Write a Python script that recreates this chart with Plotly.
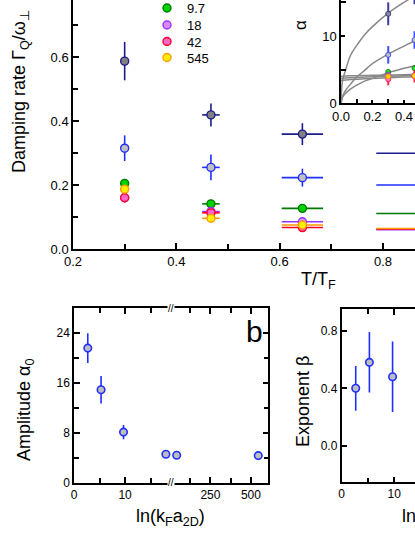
import plotly.graph_objects as go

W, H = 415, 537
FONT = "Liberation Sans, Arial, sans-serif"

# ---- panel a: damping rate vs T/T_F ----
T_POINTS = [0.30, 0.467, 0.644, 0.88]
T_ERR = [0.0, 0.017, 0.040, 0.093]

SERIES = ["2.7", "5.3", "9.7", "18", "42", "545"]
GAMMA = {
    "2.7": [0.587, 0.419, 0.359, 0.299],
    "5.3": [0.315, 0.255, 0.223, 0.200],
    "9.7": [0.205, 0.141, 0.127, 0.111],
    "18": [0.160, 0.117, 0.085, 0.060],
    "42": [0.160, 0.113, 0.067, 0.063],
    "545": [0.187, 0.096, 0.075, 0.064],
}
GAMMA_ERR = {
    "2.7": [0.060, 0.036, 0.034, 0.0],
    "5.3": [0.040, 0.040, 0.028, 0.0],
    "9.7": [0.014, 0.008, 0.006, 0.0],
    "18": [0.012, 0.008, 0.006, 0.0],
    "42": [0.014, 0.008, 0.006, 0.0],
    "545": [0.012, 0.008, 0.006, 0.0],
}

# inset: alpha vs T/T_F
INSET_T = [0.30, 0.467]
ALPHA = {
    "2.7": [13.3, 16.4],
    "5.3": [7.2, 9.4],
    "9.7": [4.65, 5.2],
    "18": [4.2, 4.2],
    "42": [3.57, 4.0],
    "545": [4.0, 4.1],
}
ALPHA_ERR = {
    "2.7": [1.7, 1.7],
    "5.3": [1.3, 1.3],
    "9.7": [0.4, 0.4],
    "18": [0.4, 0.4],
    "42": [0.9, 0.9],
    "545": [0.3, 0.3],
}
# fit curves in the inset
CURVE_T = [0.0, 0.01, 0.03, 0.06, 0.1, 0.15, 0.2, 0.3, 0.4, 0.47]
CURVES = [
    [0.0, 3.4, 5.0, 7.1, 8.6, 10.2, 11.4, 13.4, 15.0, 16.0],
    [0.0, 1.0, 1.95, 2.85, 3.9, 4.9, 5.9, 7.3, 8.5, 9.3],
    [0.0, 0.9, 1.5, 2.1, 2.7, 3.3, 3.7, 4.55, 5.2, 5.6],
    [4.0, 4.02, 4.05, 4.08, 4.1, 4.13, 4.16, 4.2, 4.25, 4.3],
    [3.7, 3.73, 3.77, 3.8, 3.85, 3.9, 3.95, 4.0, 4.1, 4.15],
    [3.4, 3.43, 3.48, 3.52, 3.58, 3.64, 3.7, 3.8, 3.9, 3.95],
]

# ---- panels b and c ----
LN_KA = [2.7, 5.3, 9.7, 18, 42, 545]
AMP = [21.6, 14.9, 8.1, 4.54, 4.38, 4.32]
AMP_ERR = [2.4, 2.2, 1.15, 0.3, 0.3, 0.3]
EXP_X = [2.7, 5.3, 9.7]
EXP = [0.40, 0.58, 0.48]
EXP_ERR = [0.155, 0.21, 0.245]

STYLE = {
    "2.7": dict(fill="#808080", edge="#1c1c8c"),
    "5.3": dict(fill="#c0c0c0", edge="#1f2fff"),
    "9.7": dict(fill="#00d400", edge="#007a00"),
    "18": dict(fill="#d98cff", edge="#9933ff"),
    "42": dict(fill="#ff66cc", edge="#ff0022"),
    "545": dict(fill="#ffee00", edge="#ff9900"),
}
# one small legend per visible entry, so rows can sit closer than plotly's default spacing
LEGEND_ROW = {"9.7": ("legend", 8), "18": ("legend2", 25), "42": ("legend3", 41.5), "545": ("legend4", 57.5)}


def fx(px):
    return px / W


def fy(py):
    return 1 - py / H


fig = go.Figure()

for s in SERIES:
    st = STYLE[s]
    fig.add_trace(go.Scatter(
        x=T_POINTS, y=GAMMA[s], mode="markers", name=s,
        showlegend=s in LEGEND_ROW,
        legend=LEGEND_ROW[s][0] if s in LEGEND_ROW else "legend",
        marker=dict(size=8, color=st["fill"], line=dict(color=st["edge"], width=1.4)),
        error_x=dict(type="data", array=T_ERR, color=st["edge"], thickness=1.6, width=0),
        error_y=dict(type="data", array=GAMMA_ERR[s], color=st["edge"], thickness=1.6, width=0),
        xaxis="x", yaxis="y",
    ))

for c in CURVES:
    fig.add_trace(go.Scatter(
        x=CURVE_T, y=c, mode="lines", showlegend=False,
        line=dict(color="#888888", width=1.5, shape="spline"),
        xaxis="x2", yaxis="y2",
    ))

for s in SERIES:
    st = STYLE[s]
    fig.add_trace(go.Scatter(
        x=INSET_T, y=ALPHA[s], mode="markers", showlegend=False,
        marker=dict(size=5, color=st["fill"], line=dict(color=st["edge"], width=1)),
        error_y=dict(type="data", array=ALPHA_ERR[s], color=st["edge"], thickness=2, width=0),
        opacity=0.85,
        xaxis="x2", yaxis="y2",
    ))

b_style = dict(size=7.5, color="#bdbdbd", line=dict(color="#1f2fff", width=1.6))
left = [i for i, v in enumerate(LN_KA) if v < 19]
right = [i for i, v in enumerate(LN_KA) if v >= 19]
fig.add_trace(go.Scatter(
    x=[LN_KA[i] for i in left], y=[AMP[i] for i in left], mode="markers", showlegend=False,
    marker=b_style,
    error_y=dict(type="data", array=[AMP_ERR[i] for i in left], color="#1f2fff", thickness=1.6, width=0),
    xaxis="x3", yaxis="y3",
))
fig.add_trace(go.Scatter(
    x=[LN_KA[i] for i in right], y=[AMP[i] for i in right], mode="markers", showlegend=False,
    marker=b_style,
    error_y=dict(type="data", array=[AMP_ERR[i] for i in right], color="#1f2fff", thickness=1.6, width=0),
    xaxis="x4", yaxis="y4",
))
fig.add_trace(go.Scatter(
    x=EXP_X, y=EXP, mode="markers", showlegend=False,
    marker=b_style,
    error_y=dict(type="data", array=EXP_ERR, color="#1f2fff", thickness=1.6, width=0),
    xaxis="x5", yaxis="y5",
))

ax = dict(showline=True, linecolor="black", linewidth=1.5, ticks="inside", ticklen=6,
          tickwidth=1.5, tickcolor="black", showgrid=False, zeroline=False,
          tickfont=dict(size=13, color="black"))
minor = lambda d: dict(dtick=d, ticks="inside", ticklen=5, tickwidth=1.5, tickcolor="black")

legends = {}
for s, (key, row) in LEGEND_ROW.items():
    legends[key] = dict(x=fx(147), y=fy(row), xanchor="left", yanchor="middle",
                        bgcolor="rgba(0,0,0,0)", font=dict(size=13), itemwidth=30)

fig.update_layout(
    width=W, height=H, margin=dict(l=0, r=0, t=0, b=0, autoexpand=False),
    paper_bgcolor="white", plot_bgcolor="rgba(0,0,0,0)",
    font=dict(family=FONT, color="black"),
    xaxis=dict(ax, domain=[fx(73), 1], range=[0.2, 0.862], anchor="y",
               tick0=0.2, dtick=0.2, tickformat=".1f", minor=minor(0.1)),
    yaxis=dict(ax, domain=[fy(249), 1], range=[0, 0.778], anchor="x",
               tick0=0, dtick=0.2, tickformat=".1f", minor=minor(0.1)),
    xaxis2=dict(ax, domain=[fx(341), 1], range=[0, 0.47], anchor="y2",
                tick0=0, dtick=0.2, tickformat=".1f", minor=minor(0.1), ticklen=4),
    yaxis2=dict(ax, domain=[fy(103.3), 1], range=[0, 15.35], anchor="x2",
                tick0=0, dtick=10, minor=minor(5), ticklen=4),
    xaxis3=dict(ax, domain=[fx(74), fx(171)], range=[0, 19], anchor="y3", mirror="ticks",
                tick0=0, dtick=10, minor=minor(5), tickfont=dict(size=12)),
    xaxis4=dict(ax, domain=[fx(171), fx(268.3)], range=[7, 607], anchor="y4", mirror="ticks",
                tick0=0, dtick=250, minor=minor(125), tickfont=dict(size=12)),
    yaxis3=dict(ax, domain=[fy(482.5), fy(308.3)], range=[0, 28], anchor="x3",
                tick0=0, dtick=8, minor=minor(4), tickfont=dict(size=12)),
    yaxis4=dict(ax, domain=[fy(482.5), fy(308.3)], range=[0, 28], anchor="x4", side="right",
                tick0=0, dtick=8, minor=minor(4), showticklabels=False),
    xaxis5=dict(ax, domain=[fx(341.5), 1], range=[0, 13.96], anchor="y5", mirror="ticks",
                tick0=0, dtick=10, minor=minor(5), tickfont=dict(size=12)),
    yaxis5=dict(ax, domain=[fy(482.3), fy(309)], range=[-0.252, 0.95], anchor="x5",
                tick0=0, dtick=0.4, tickformat=".1f", tickfont=dict(size=12)),
    **legends,
)

ann = [
    dict(x=fx(20), y=fy(92), text="Damping rate Γ<sub>Q</sub>/ω<sub>⊥</sub>", textangle=-90, size=18),
    dict(x=fx(318), y=fy(280), text="T/T<sub>F</sub>", size=18),
    dict(x=fx(300), y=fy(25), text="α", textangle=-90, size=17),
    dict(x=fx(25), y=fy(410), text="Amplitude α<sub>0</sub>", textangle=-90, size=18),
    dict(x=fx(170), y=fy(517), text="ln(k<sub>F</sub>a<sub>2D</sub>)", size=18),
    dict(x=fx(303), y=fy(402), text="Exponent β", textangle=-90, size=18),
    dict(x=fx(401), y=fy(517), text="ln(k<sub>F</sub>a<sub>2D</sub>)", size=18, xanchor="left"),
    dict(x=fx(254), y=fy(331), text="b", size=30),
    dict(x=fx(171), y=fy(308.3), text="//", size=10),
    dict(x=fx(171), y=fy(482.5), text="//", size=10),
]
for a in ann:
    fig.add_annotation(
        x=a["x"], y=a["y"], xref="paper", yref="paper", text=a["text"],
        textangle=a.get("textangle", 0), showarrow=False,
        xanchor=a.get("xanchor", "center"), yanchor="middle",
        font=dict(size=a["size"], family=FONT, color="black"),
        bgcolor="white" if a["text"] == "//" else None, borderpad=0,
    )

# the page body has an 8px default margin; drop it so the figure fills the window
fig.write_html("out.html", config={"displayModeBar": False},
               post_script="document.body.style.margin='0';")
